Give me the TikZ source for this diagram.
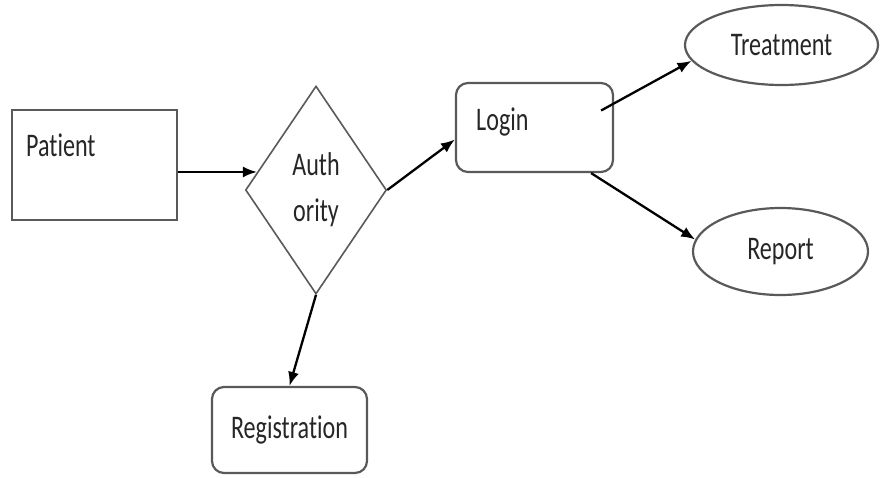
\documentclass[tikz,border=0pt]{standalone}
\usepackage{fontspec}
\setmainfont{Carlito}[FakeStretch=0.73, Ligatures=NoCommon]
\usetikzlibrary{shapes.geometric,arrows.meta}

\begin{document}
\begin{tikzpicture}[x=1pt,y=-1pt,
    every node/.style={font=\fontsize{33}{46}\selectfont, text=black!85, inner sep=0pt},
    box/.style={draw=black!65, line width=2.2pt},
    roundbox/.style={box, rounded corners=12pt},
    oval/.style={box, ellipse},
    decide/.style={box, diamond, line width=1.6pt, align=center},
    flow/.style={-{Latex[length=14pt,width=11pt]}, line width=2.3pt}]
    \useasboundingbox (0,0) rectangle (880,477);
    \node[box, minimum width=165pt, minimum height=110pt] (patient) at (94.5,165) {};
    \node[anchor=west] (patienttext) at (26,145) {Patient};
    \node[decide, minimum width=141pt, minimum height=208pt] (auth) at (316,190) {Auth\\ority};
    \node[roundbox, minimum width=157pt, minimum height=89pt] (login) at (534.5,127.5) {};
    \node[anchor=west] (logintext) at (476,122) {Login};
    \node[roundbox, minimum width=155pt, minimum height=86pt] (reg) at (289.5,430) {Registration};
    \node[oval, minimum width=193pt, minimum height=80pt] (treat) at (781.5,45) {Treatment};
    \node[oval, minimum width=175pt, minimum height=87pt] (report) at (780.5,251.5) {Report};

    \draw[flow] (patient.east |- auth.163) -- (auth.163);
    \draw[flow] (auth.east) -- ([yshift=-12pt]login.west);
    \draw[flow] ([xshift=-13pt,yshift=17pt]login.east) -- (treat.190);
    \draw[flow] ([xshift=-23pt]login.south east) -- (report.172);
    \draw[flow] (auth.south) -- (reg.north);
\end{tikzpicture}
\end{document}
